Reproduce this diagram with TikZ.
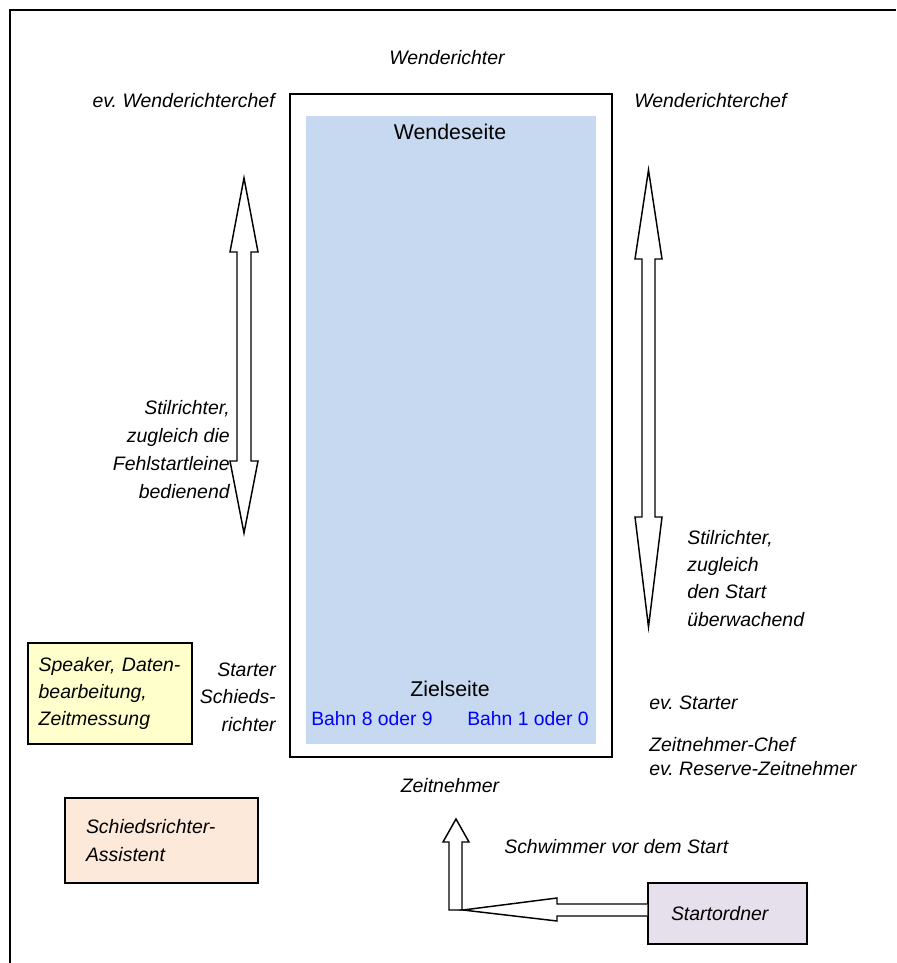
\documentclass[tikz,border=0pt]{standalone}
\usepackage{fontspec}
\setmainfont{Liberation Sans}
\frenchspacing
\begin{document}
\begin{tikzpicture}[x=0.75pt,y=-0.75pt,
  lbl/.style={inner sep=0pt,font=\fontsize{14.6}{20.5}\selectfont\itshape},
  up/.style={inner sep=0pt,font=\fontsize{16}{19}\selectfont},
  lane/.style={inner sep=0pt,font=\fontsize{14.5}{17}\selectfont,text=blue},
  blockarrow/.style={draw=black,fill=white,line width=1.1pt,line join=miter},
  infobox/.style={draw=black,line width=1.1pt,align=left,inner ysep=0pt,
     font=\fontsize{14.6}{20.5}\selectfont\itshape},
]
\useasboundingbox (0,0) rectangle (896,963);
% outer frame (top and left edges)
\draw[line width=1.9pt] (10,963) -- (10,10) -- (896,10);
% pool
\draw[line width=1.1pt] (290,94) rectangle (612,757);
\fill[fill={rgb,255:red,198;green,217;blue,241}] (306,116) rectangle (596,744);
\node[up] (wende) at (450,132) {Wendeseite};
\node[up] (ziel) at (450,689) {Zielseite};
\node[lane,anchor=west] (b8) at (311,719) {Bahn 8 oder 9};
\node[lane,anchor=west] (b1) at (467,719) {Bahn 1 oder 0};
% labels
\node[lbl] (wr) at (447,58) {Wenderichter};
\node[lbl,anchor=east] (evwrc) at (275,101) {ev. Wenderichterchef};
\node[lbl,anchor=west] (wrc) at (634,101) {Wenderichterchef};
\node[lbl,anchor=east,align=right,font=\fontsize{14.6}{21}\selectfont\itshape] (stl) at (230,450)
  {Stilrichter,\\zugleich die\\Fehlstartleine\\bedienend};
\node[lbl,anchor=west,align=left,font=\fontsize{14.6}{20.3}\selectfont\itshape] (str) at (687,578.5)
  {Stilrichter,\\zugleich\\den Start\\überwachend};
\node[lbl,anchor=east,align=right] (starter) at (276,697)
  {Starter\\Schieds-\\richter};
\node[lbl,anchor=west] (evst) at (649,703) {ev. Starter};
\node[lbl,anchor=west,align=left,font=\fontsize{14.6}{18}\selectfont\itshape] (zc) at (649,757)
  {Zeitnehmer-Chef\\ev. Reserve-Zeitnehmer};
\node[lbl] (zn) at (450,786) {Zeitnehmer};
\node[lbl,anchor=west] (schw) at (504,847) {Schwimmer vor dem Start};
% boxes
\node[infobox,fill={rgb,255:red,255;green,255;blue,204},minimum height=75.75pt,
  minimum width=123pt,inner xsep=0pt,text width=107pt] (spk) at (110,693.5)
  {Speaker, Daten-\\bearbeitung,\\Zeitmessung};
\node[infobox,fill={rgb,255:red,252;green,233;blue,217},minimum height=63.75pt,
  inner xsep=15.75pt,text width=113.25pt] (sra) at (161.5,840.5)
  {Schiedsrichter-\\Assistent};
\node[infobox,fill={rgb,255:red,229;green,224;blue,236},minimum height=45.75pt,
  inner xsep=17.25pt,text width=84.75pt] (so) at (727.5,913.5)
  {Startordner};
% double arrows
\draw[blockarrow] (244,178) -- (258,252) -- (251,252) -- (251,461) -- (258,461) -- (244,533)
  -- (230,461) -- (237,461) -- (237,252) -- (230,252) -- cycle;
\draw[blockarrow] (648.5,170) -- (662,259) -- (655,259) -- (655,517) -- (662,517) -- (648.5,627)
  -- (635,517) -- (642,517) -- (642,259) -- (635,259) -- cycle;
% swimmer arrows
\draw[blockarrow] (449,910) -- (449,842) -- (443,842) -- (456,819) -- (469,842) -- (462,842)
  -- (462,910) -- cycle;
\draw[blockarrow] (so.west |- 0,904) -- (557,904) -- (557,898) -- (463,910) -- (557,921)
  -- (557,916) -- (so.west |- 0,916);
\end{tikzpicture}
\end{document}
